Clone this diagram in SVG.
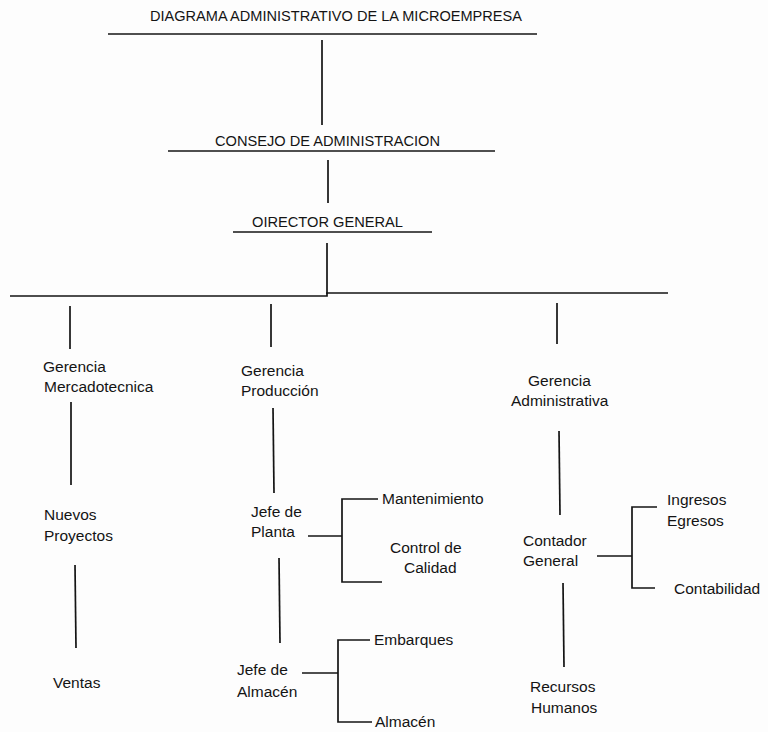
<svg xmlns="http://www.w3.org/2000/svg" width="768" height="732" viewBox="0 0 768 732">
<style>
text{font-family:"Liberation Sans",Arial,sans-serif;fill:#141414;font-size:15.5px}
.t{font-size:14px}
.c line,.c path{stroke:#141414;stroke-width:1.7;fill:none}
</style>
<rect width="768" height="732" fill="#fdfdfd"/>
<g class="c" id="connectors">
<line x1="108" y1="34" x2="537" y2="34"/>
<line x1="322" y1="40" x2="322" y2="125"/>
<line x1="168" y1="151" x2="495" y2="151"/>
<line x1="328" y1="160" x2="328" y2="203"/>
<line x1="233" y1="232" x2="432" y2="232"/>
<line x1="327" y1="243" x2="327" y2="294"/>
<path d="M10 296 H327 V293 H668"/>
<line x1="70" y1="306" x2="70" y2="349"/>
<line x1="271" y1="304" x2="271" y2="347"/>
<line x1="557" y1="303" x2="557" y2="344"/>
<line x1="71" y1="402" x2="71" y2="485"/>
<line x1="273" y1="408" x2="274" y2="493"/>
<line x1="559" y1="431" x2="560" y2="515"/>
<line x1="75" y1="565" x2="76" y2="648"/>
<line x1="279" y1="558" x2="280" y2="643"/>
<line x1="563" y1="583" x2="564" y2="667"/>
<line x1="308" y1="536" x2="342" y2="536"/>
<path d="M378 499 H342 V582 H382"/>
<line x1="302" y1="673" x2="338" y2="673"/>
<path d="M370 640 H338 V722 H372"/>
<line x1="597" y1="556" x2="632" y2="556"/>
<path d="M657 507 H632 V588 H655"/>
</g>
<g id="title"><text class="t" x="150" y="21" textLength="372" lengthAdjust="spacingAndGlyphs">DIAGRAMA ADMINISTRATIVO DE LA MICROEMPRESA</text></g>
<g id="consejo"><text class="t" x="215" y="146" textLength="225" lengthAdjust="spacingAndGlyphs">CONSEJO DE ADMINISTRACION</text></g>
<g id="director"><text class="t" x="252" y="227" textLength="151" lengthAdjust="spacingAndGlyphs">OIRECTOR GENERAL</text></g>
<g id="g-merc"><text x="43" y="372">Gerencia</text><text x="44" y="392">Mercadotecnica</text></g>
<g id="g-prod"><text x="241" y="376">Gerencia</text><text x="241" y="396">Producción</text></g>
<g id="g-adm"><text x="528" y="386">Gerencia</text><text x="511" y="406">Administrativa</text></g>
<g id="nuevos"><text x="44" y="520">Nuevos</text><text x="44" y="541">Proyectos</text></g>
<g id="ventas"><text x="53" y="688">Ventas</text></g>
<g id="planta"><text x="251" y="517">Jefe de</text><text x="251" y="537">Planta</text></g>
<g id="mant"><text x="382" y="504">Mantenimiento</text></g>
<g id="calidad"><text x="390" y="553">Control de</text><text x="404" y="573">Calidad</text></g>
<g id="almacen-jefe"><text x="237" y="675">Jefe de</text><text x="237" y="697">Almacén</text></g>
<g id="embarques"><text x="374" y="645">Embarques</text></g>
<g id="almacen"><text x="375" y="727">Almacén</text></g>
<g id="contador"><text x="523" y="546">Contador</text><text x="523" y="566">General</text></g>
<g id="ingresos"><text x="667" y="505">Ingresos</text><text x="667" y="526">Egresos</text></g>
<g id="contab"><text x="674" y="594">Contabilidad</text></g>
<g id="rh"><text x="530" y="692">Recursos</text><text x="531" y="713">Humanos</text></g>
</svg>
